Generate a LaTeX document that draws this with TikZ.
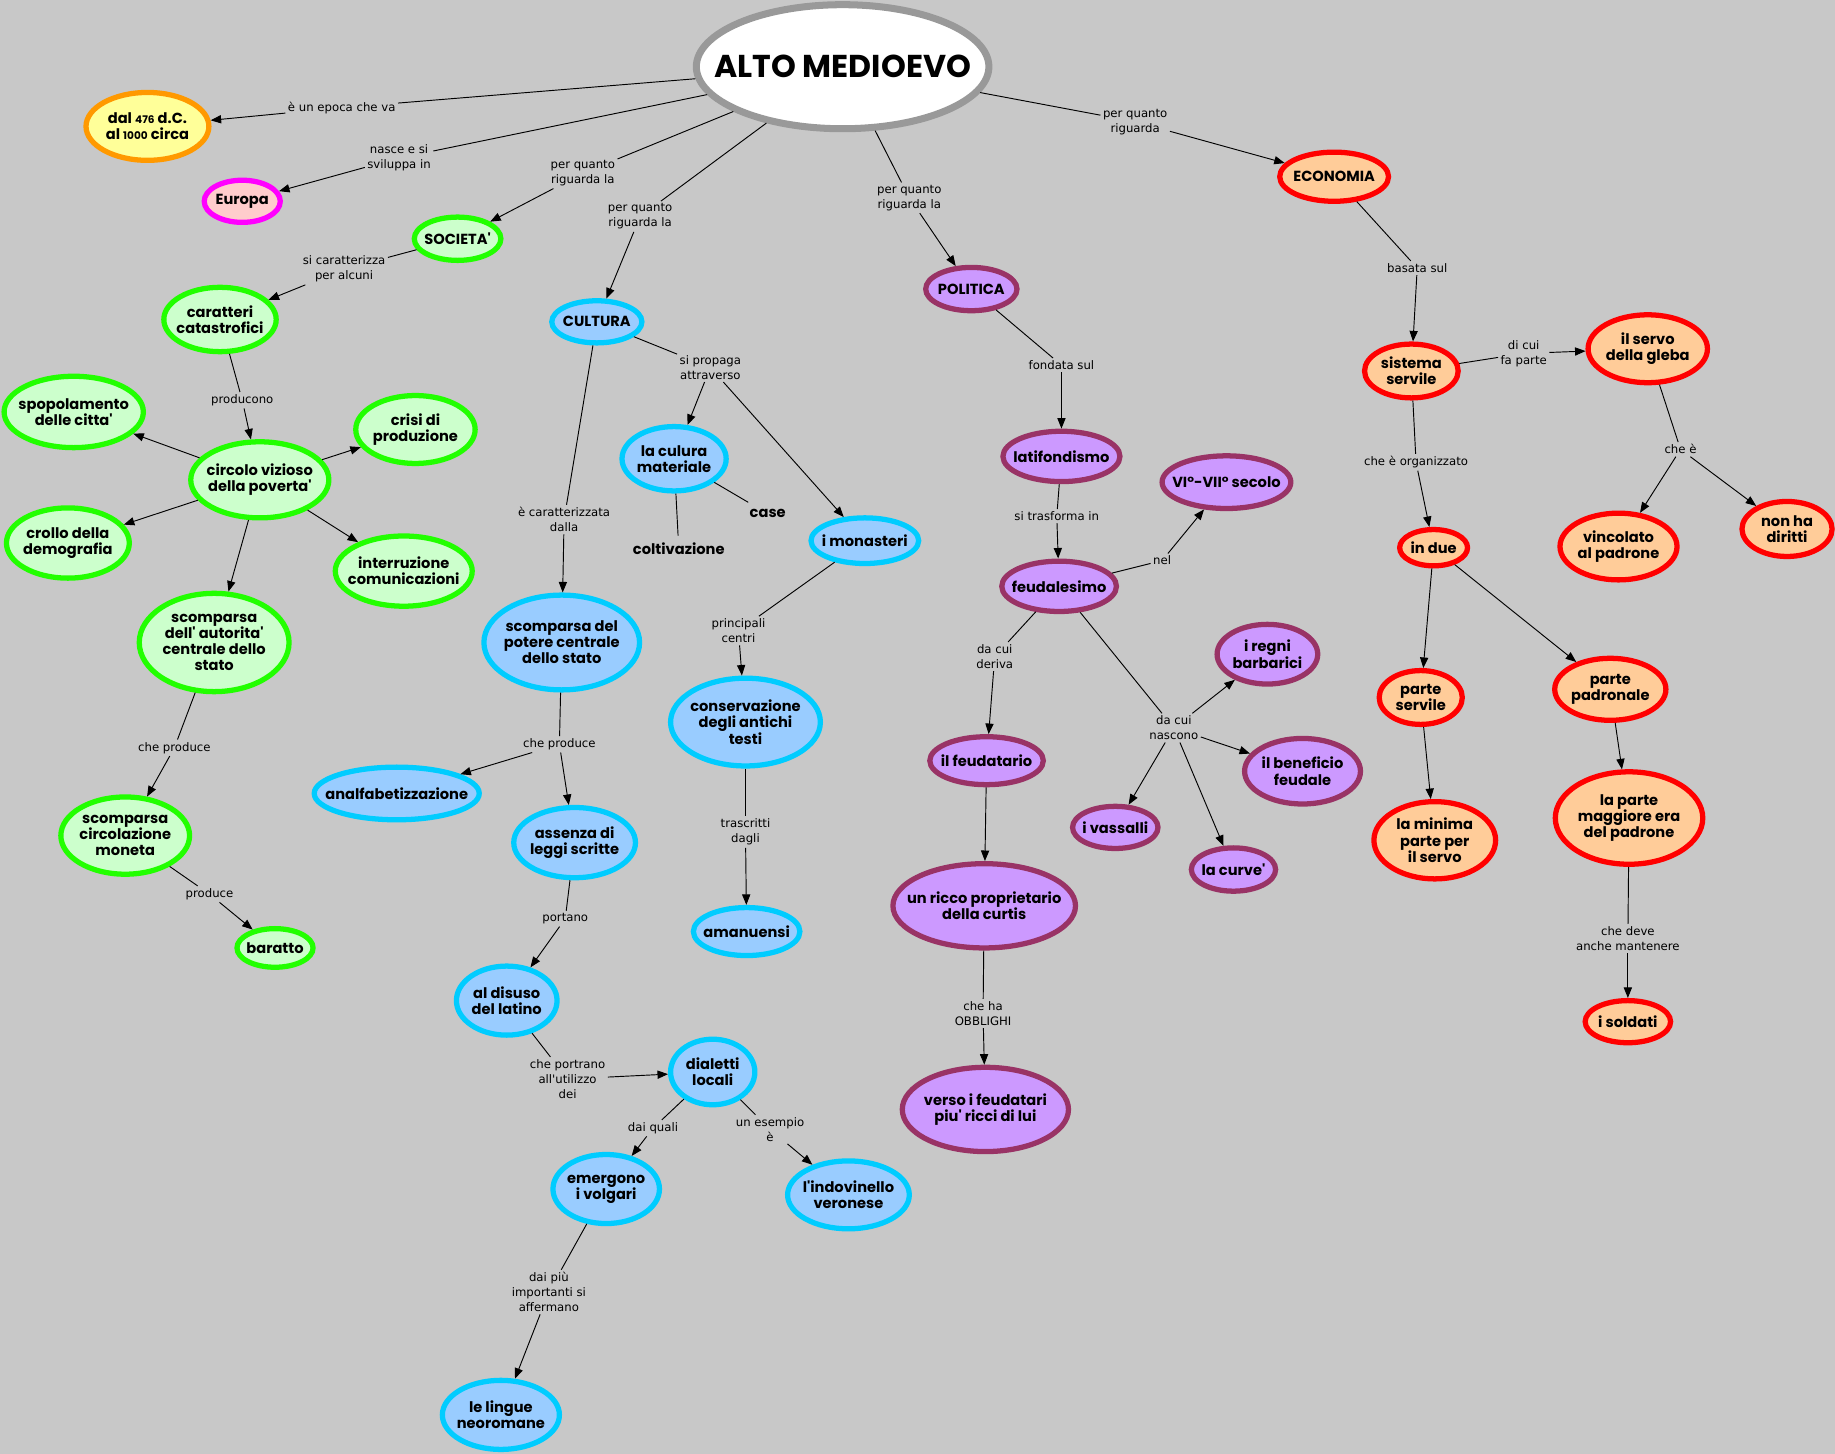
\documentclass[tikz,border=0pt]{standalone}
\usepackage{fontspec}
\usepackage{tikz}
\usetikzlibrary{shapes.geometric, arrows.meta}
\newfontfamily\conceptfont{Poppins}
\newfontfamily\linkfont{DejaVu Sans}
\definecolor{bggray}{RGB}{200,200,200}
\definecolor{topline}{RGB}{153,153,153}
\definecolor{socfill}{RGB}{204,255,204}
\definecolor{socline}{RGB}{34,255,0}
\definecolor{culfill}{RGB}{153,204,255}
\definecolor{culline}{RGB}{0,204,255}
\definecolor{polfill}{RGB}{204,153,255}
\definecolor{polline}{RGB}{153,51,102}
\definecolor{ecofill}{RGB}{255,204,153}
\definecolor{ecoline}{RGB}{255,0,0}

\begin{document}
\begin{tikzpicture}[x=1pt, y=-1pt,
        concept/.style={ellipse, draw, line width=4.5pt, inner xsep=-50pt, inner ysep=-25pt,
          align=center, font=\conceptfont\bfseries\fontsize{12.5}{13.8}\selectfont},
        soc/.style={concept, fill=socfill, draw=socline},
        cul/.style={concept, fill=culfill, draw=culline},
        pol/.style={concept, fill=polfill, draw=polline},
        eco/.style={concept, fill=ecofill, draw=ecoline},
        plain/.style={inner sep=6pt, font=\conceptfont\bfseries\fontsize{12.5}{13.8}\selectfont},
        linklabel/.style={font=\linkfont\fontsize{10}{12.8}\selectfont, align=center, inner sep=2pt},
        link/.style={line width=0.8pt},
        linkarrow/.style={link, -{Triangle[length=9pt, width=7pt]}}]
        \useasboundingbox (0,0) rectangle (1568,1242);
        \fill[bggray] (0,0) rectangle (1568,1242);

        % centre
        \node[concept, fill=white, draw=topline, line width=6pt, minimum width=250, minimum height=106,
          font=\conceptfont\bfseries\fontsize{27}{30}\selectfont] (alto) at (720,57) {ALTO MEDIOEVO};
        \node[concept, fill={rgb,255:red,255;green,255;blue,153}, draw={rgb,255:red,255;green,153;blue,0},
          minimum width=105, minimum height=58] (epoca) at (126,108) {dal {\small 476} d.C.\\al {\small 1000} circa};
        \node[concept, fill={rgb,255:red,255;green,204;blue,204}, draw={rgb,255:red,255;green,0;blue,255},
          minimum width=65, minimum height=36] (europa) at (207,172) {Europa};

        % societa
        \node[soc, minimum width=74, minimum height=37] (societa) at (391,204) {SOCIETA'};
        \node[soc, minimum width=96, minimum height=55] (carat) at (188,273) {caratteri\\catastrofici};
        \node[soc, minimum width=119, minimum height=61] (spopol) at (63,352) {spopolamento\\delle citta'};
        \node[soc, minimum width=102, minimum height=58] (crisi) at (355,367) {crisi di\\produzione};
        \node[soc, minimum width=118, minimum height=65] (circolo) at (222,410) {circolo vizioso\\della poverta'};
        \node[soc, minimum width=105, minimum height=60] (crollo) at (58,464) {crollo della\\demografia};
        \node[soc, minimum width=117, minimum height=60] (interr) at (345,488) {interruzione\\comunicazioni};
        \node[soc, minimum width=128, minimum height=84] (scompaut) at (183,549) {scomparsa\\dell' autorita'\\centrale dello\\stato};
        \node[soc, minimum width=110, minimum height=66] (moneta) at (107,714) {scomparsa\\circolazione\\moneta};
        \node[soc, minimum width=65, minimum height=33] (baratto) at (235,810) {baratto};

        % cultura
        \node[cul, minimum width=77, minimum height=36] (cultura) at (510,275) {CULTURA};
        \node[cul, minimum width=89, minimum height=55] (materiale) at (576,392) {la culura\\materiale};
        \node[plain] (case) at (656,439) {case};
        \node[plain] (coltiv) at (580,469) {coltivazione};
        \node[cul, minimum width=92, minimum height=39] (monast) at (739,462) {i monasteri};
        \node[cul, minimum width=133, minimum height=81] (scomppot) at (480,549) {scomparsa del\\potere centrale\\dello stato};
        \node[cul, minimum width=128, minimum height=75] (conserv) at (637,617) {conservazione\\degli antichi\\testi};
        \node[cul, minimum width=141, minimum height=45] (analf) at (339,678) {analfabetizzazione};
        \node[cul, minimum width=104, minimum height=60] (assenza) at (491,720) {assenza di\\leggi scritte};
        \node[cul, minimum width=91, minimum height=41] (amanu) at (638,796) {amanuensi};
        \node[cul, minimum width=86, minimum height=59] (disuso) at (433,855) {al disuso\\del latino};
        \node[cul, minimum width=72, minimum height=56] (dialetti) at (609,916) {dialetti\\locali};
        \node[cul, minimum width=91, minimum height=59] (volgari) at (518,1016) {emergono\\i volgari};
        \node[cul, minimum width=104, minimum height=58] (indov) at (725,1021) {l'indovinello\\veronese};
        \node[cul, minimum width=100, minimum height=59] (neorom) at (428,1209) {le lingue\\neoromane};

        % politica
        \node[pol, minimum width=78, minimum height=37] (politica) at (830,247) {POLITICA};
        \node[pol, minimum width=100, minimum height=43] (latif) at (907,390) {latifondismo};
        \node[pol, minimum width=110, minimum height=45] (secolo) at (1048,412) {VI°-VII° secolo};
        \node[pol, minimum width=98, minimum height=43] (feudal) at (905,501) {feudalesimo};
        \node[pol, minimum width=97, minimum height=41] (feudat) at (843,650) {il feudatario};
        \node[pol, minimum width=86, minimum height=51] (regni) at (1083,559) {i regni\\barbarici};
        \node[pol, minimum width=99, minimum height=56] (benef) at (1113,659) {il beneficio\\feudale};
        \node[pol, minimum width=73, minimum height=36] (vassalli) at (953,707) {i vassalli};
        \node[pol, minimum width=72, minimum height=37] (curve) at (1054,743) {la curve'};
        \node[pol, minimum width=156, minimum height=72] (ricco) at (841,774) {un ricco proprietario\\della curtis};
        \node[pol, minimum width=142, minimum height=72] (verso) at (842,948) {verso i feudatari\\piu' ricci di lui};

        % economia
        \node[eco, minimum width=93, minimum height=42] (economia) at (1140,151) {ECONOMIA};
        \node[eco, minimum width=80, minimum height=46] (sistema) at (1206,317) {sistema\\servile};
        \node[eco, minimum width=102, minimum height=58] (gleba) at (1408,298) {il servo\\della gleba};
        \node[eco, minimum width=58, minimum height=31] (indue) at (1225,468) {in due};
        \node[eco, minimum width=100, minimum height=57] (vincolo) at (1383,467) {vincolato\\al padrone};
        \node[eco, minimum width=77, minimum height=47] (diritti) at (1527,452) {non ha\\diritti};
        \node[eco, minimum width=71, minimum height=46] (parteserv) at (1214,596) {parte\\servile};
        \node[eco, minimum width=95, minimum height=53] (partepadr) at (1376,589) {parte\\padronale};
        \node[eco, minimum width=104, minimum height=66] (minima) at (1226,718) {la minima\\parte per\\il servo};
        \node[eco, minimum width=126, minimum height=79] (maggiore) at (1392,699) {la parte\\maggiore era\\del padrone};
        \node[eco, minimum width=73, minimum height=36] (soldati) at (1391,873) {i soldati};

        % link labels
        \node[linklabel] (lEpoca) at (292,92) {è un epoca che va};
        \node[linklabel] (lNasce) at (341,135) {nasce e si\\sviluppa in};
        \node[linklabel] (lSoc) at (498,148) {per quanto\\riguarda la};
        \node[linklabel] (lCul) at (547,185) {per quanto\\riguarda la};
        \node[linklabel] (lPol) at (777,169) {per quanto\\riguarda la};
        \node[linklabel] (lEco) at (970,104) {per quanto\\riguarda};
        \node[linklabel] (lCarat) at (294,230) {si caratterizza\\per alcuni};
        \node[linklabel] (lProducono) at (207,342) {producono};
        \node[linklabel] (lCheProd) at (149,639) {che produce};
        \node[linklabel] (lProduce) at (179,764) {produce};
        \node[linklabel] (lDalla) at (482,444) {è caratterizzata\\dalla};
        \node[linklabel] (lPropaga) at (607,314) {si propaga\\attraverso};
        \node[linklabel] (lCentri) at (631,539) {principali\\centri};
        \node[linklabel] (lTrascr) at (637,711) {trascritti\\dagli};
        \node[linklabel] (lCheProdB) at (478,636) {che produce};
        \node[linklabel] (lPortano) at (483,785) {portano};
        \node[linklabel] (lUtilizzo) at (485,922) {che portrano\\all\textquotesingle utilizzo\\dei};
        \node[linklabel] (lQuali) at (558,964) {dai quali};
        \node[linklabel] (lEsempio) at (658,965) {un esempio\\è};
        \node[linklabel] (lAffermano) at (469,1104) {dai più\\importanti si\\affermano};
        \node[linklabel] (lFondata) at (907,312) {fondata sul};
        \node[linklabel] (lTrasforma) at (903,441) {si trasforma in};
        \node[linklabel] (lNel) at (993,479) {nel};
        \node[linklabel] (lDeriva) at (850,561) {da cui\\deriva};
        \node[linklabel] (lNascono) at (1003,622) {da cui\\nascono};
        \node[linklabel] (lObblighi) at (840,866) {che ha\\OBBLIGHI};
        \node[linklabel] (lBasata) at (1211,229) {basata sul};
        \node[linklabel] (lParte) at (1302,302) {di cui\\fa parte};
        \node[linklabel] (lOrganiz) at (1210,395) {che è organizzato};
        \node[linklabel] (lCheE) at (1436,384) {che è};
        \node[linklabel] (lMantenere) at (1391,802) {che deve\\anche mantenere};

        % links from the centre
        \draw[link] (alto) -- (lEpoca);  \draw[linkarrow] (lEpoca) -- (epoca);
        \draw[link] (alto) -- (lNasce);  \draw[linkarrow] (lNasce) -- (europa);
        \draw[link] (alto) -- (lSoc);    \draw[linkarrow] (lSoc) -- (societa);
        \draw[link] (alto) -- (lCul);    \draw[linkarrow] (lCul) -- (cultura);
        \draw[link] (alto) -- (lPol);    \draw[linkarrow] (lPol) -- (politica);
        \draw[link] (alto) -- (lEco);    \draw[linkarrow] (lEco) -- (economia);

        % societa links
        \draw[link] (societa) -- (lCarat);    \draw[linkarrow] (lCarat) -- (carat);
        \draw[link] (carat) -- (lProducono);  \draw[linkarrow] (lProducono) -- (circolo);
        \foreach \target in {spopol, crisi, crollo, interr, scompaut}
          \draw[linkarrow] (circolo) -- (\target);
        \draw[link] (scompaut) -- (lCheProd); \draw[linkarrow] (lCheProd) -- (moneta);
        \draw[link] (moneta) -- (lProduce);   \draw[linkarrow] (lProduce) -- (baratto);

        % cultura links
        \draw[link] (cultura) -- (lDalla);    \draw[linkarrow] (lDalla) -- (scomppot);
        \draw[link] (cultura) -- (lPropaga);
        \draw[linkarrow] (lPropaga) -- (materiale);
        \draw[linkarrow] (lPropaga) -- (monast);
        \draw[link] (materiale) -- (case);
        \draw[link] (materiale) -- (coltiv);
        \draw[link] (monast) -- (lCentri);    \draw[linkarrow] (lCentri) -- (conserv);
        \draw[link] (conserv) -- (lTrascr);   \draw[linkarrow] (lTrascr) -- (amanu);
        \draw[link] (scomppot) -- (lCheProdB);
        \draw[linkarrow] (lCheProdB) -- (analf);
        \draw[linkarrow] (lCheProdB) -- (assenza);
        \draw[link] (assenza) -- (lPortano);  \draw[linkarrow] (lPortano) -- (disuso);
        \draw[link] (disuso) -- (lUtilizzo);  \draw[linkarrow] (lUtilizzo) -- (dialetti);
        \draw[link] (dialetti) -- (lQuali);   \draw[linkarrow] (lQuali) -- (volgari);
        \draw[link] (dialetti) -- (lEsempio); \draw[linkarrow] (lEsempio) -- (indov);
        \draw[link] (volgari) -- (lAffermano); \draw[linkarrow] (lAffermano) -- (neorom);

        % politica links
        \draw[link] (politica) -- (lFondata); \draw[linkarrow] (lFondata) -- (latif);
        \draw[link] (latif) -- (lTrasforma);  \draw[linkarrow] (lTrasforma) -- (feudal);
        \draw[link] (feudal) -- (lNel);       \draw[linkarrow] (lNel) -- (secolo);
        \draw[link] (feudal) -- (lDeriva);    \draw[linkarrow] (lDeriva) -- (feudat);
        \draw[link] (feudal) -- (lNascono);
        \foreach \target in {regni, benef, vassalli, curve}
          \draw[linkarrow] (lNascono) -- (\target);
        \draw[linkarrow] (feudat) -- (ricco);
        \draw[link] (ricco) -- (lObblighi);   \draw[linkarrow] (lObblighi) -- (verso);

        % economia links
        \draw[link] (economia) -- (lBasata);  \draw[linkarrow] (lBasata) -- (sistema);
        \draw[link] (sistema) -- (lParte);    \draw[linkarrow] (lParte) -- (gleba);
        \draw[link] (sistema) -- (lOrganiz);  \draw[linkarrow] (lOrganiz) -- (indue);
        \draw[link] (gleba) -- (lCheE);
        \draw[linkarrow] (lCheE) -- (vincolo);
        \draw[linkarrow] (lCheE) -- (diritti);
        \draw[linkarrow] (indue) -- (parteserv);
        \draw[linkarrow] (indue) -- (partepadr);
        \draw[linkarrow] (parteserv) -- (minima);
        \draw[linkarrow] (partepadr) -- (maggiore);
        \draw[link] (maggiore) -- (lMantenere); \draw[linkarrow] (lMantenere) -- (soldati);
      \end{tikzpicture}
\end{document}
